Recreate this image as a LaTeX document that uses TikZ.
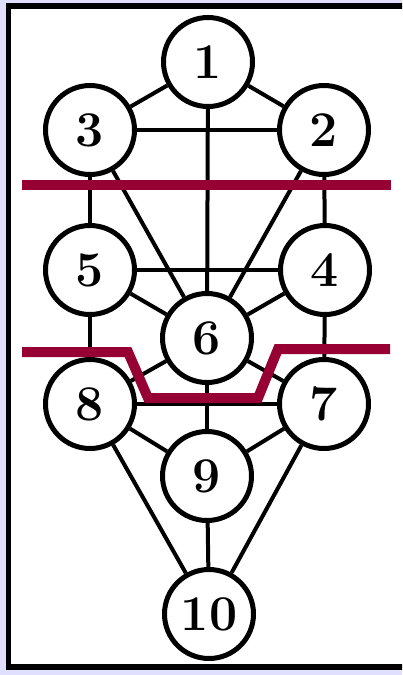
\documentclass[tikz,border=0pt]{standalone}
\usepackage{tikz}
\usetikzlibrary{positioning}
\definecolor{pageback}{RGB}{224,224,254}
\definecolor{cutred}{RGB}{150,0,50}

\begin{document}
\begin{tikzpicture}[
  x=1pt, y=-1pt,
  sefira/.style={circle, draw=black, line width=5pt, fill=white,
                 minimum size=89pt, inner sep=0pt,
                 font=\fontsize{50}{50}\selectfont\bfseries},
  link/.style={line width=4pt, draw=black},
  cut/.style={line width=10pt, draw=cutred},
]
  % page and frame
  \fill[pageback] (0,0) rectangle (402,675);
  \useasboundingbox (0,0) rectangle (402,675);
  \begin{scope}
    \clip (0,0) rectangle (402,675);
    \draw[line width=5.5pt, fill=white] (8.5,6) rectangle (430,667);
  \end{scope}

  % the ten circles
  \node[sefira] (s1) at (208,62) {1};
  \node[sefira] (s3) at (90,130) {3};
  \node[sefira] (s2) at (324,130) {2};
  \node[sefira] (s5) at (90,270) {5};
  \node[sefira] (s4) at (325,270) {4};
  \node[sefira] (s6) at (207,338) {6};
  \node[sefira] (s8) at (90,404) {8};
  \node[sefira] (s7) at (324,404) {7};
  \node[sefira] (s9) at (207,476) {9};
  \node[sefira] (s10) at (209,614) {10};

  % the 22 paths
  \foreach \a/\b in {1/2,1/3,1/6,3/2,2/4,2/6,3/5,3/6,5/4,4/6,4/7,5/6,5/8,
                     6/7,6/8,6/9,8/7,7/9,7/10,8/9,8/10,9/10}
    \draw[link] (s\a) -- (s\b);

  % red cuts
  \draw[cut] (22,185) -- (391,185);
  \draw[cut] (22,352) -- (128,352) -- (148,398) -- (258,398) -- (278,349) -- (390,349);
\end{tikzpicture}
\end{document}
